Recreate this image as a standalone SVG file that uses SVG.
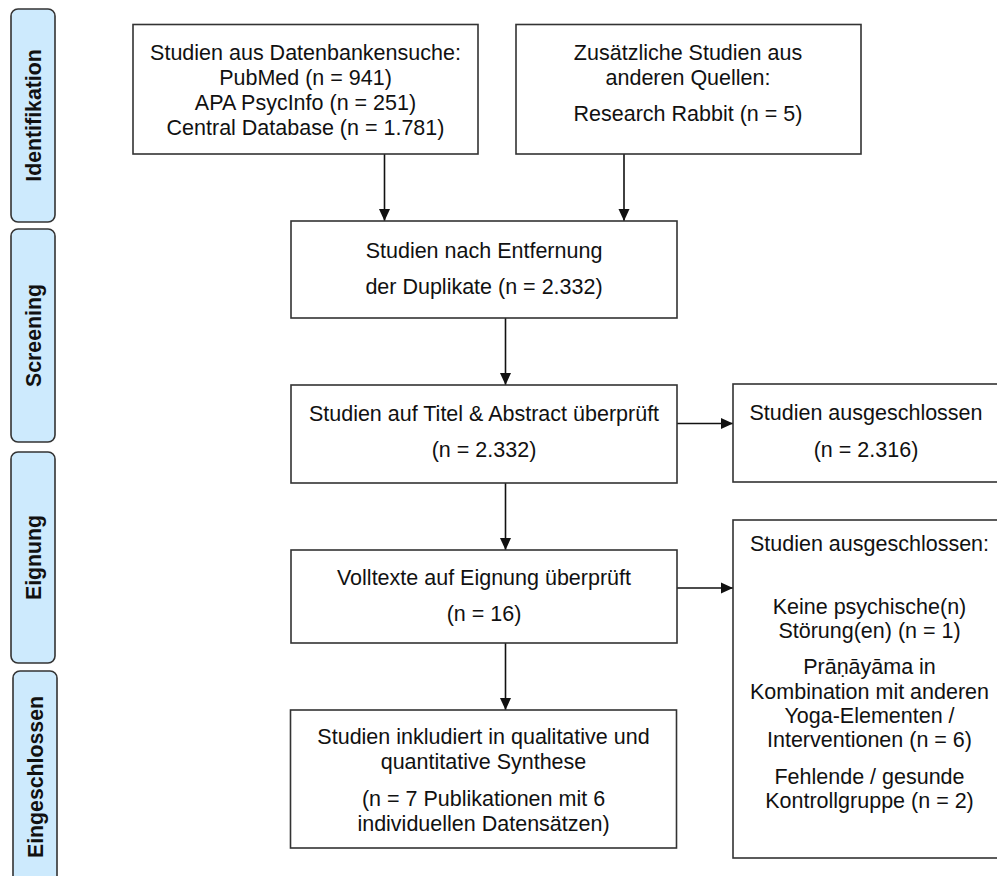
<svg xmlns="http://www.w3.org/2000/svg" width="997" height="876" viewBox="0 0 997 876">
<style>
.box{fill:#fff;stroke:#333;stroke-width:1.6}
.side{fill:#cdeafd;stroke:#333;stroke-width:1.6}
.t{font-family:"Liberation Sans",Arial,sans-serif;font-size:21.5px;fill:#111;text-anchor:middle}
.s{font-family:"Liberation Sans",Arial,sans-serif;font-size:21.3px;font-weight:bold;fill:#111;text-anchor:middle;dominant-baseline:central}
.c{stroke:#111;stroke-width:1.6;fill:none;marker-end:url(#ah)}
</style>
<defs>
<marker id="ah" markerUnits="userSpaceOnUse" markerWidth="12" markerHeight="12" viewBox="0 0 12 12" refX="12" refY="6" orient="auto">
<path d="M0,0.5 L12,6 L0,11.5 Z" fill="#111"/>
</marker>
</defs>
<rect width="997" height="876" fill="#fff"/>
<g id="phase-identifikation">
<rect class="side" x="11" y="9" width="44" height="213" rx="7"/>
<text class="s" transform="translate(33.5,115.5) rotate(-90)">Identifikation</text>
</g>
<g id="phase-screening">
<rect class="side" x="11" y="229" width="44" height="213" rx="7"/>
<text class="s" transform="translate(33.5,335.5) rotate(-90)">Screening</text>
</g>
<g id="phase-eignung">
<rect class="side" x="11" y="452" width="44" height="211" rx="7"/>
<text class="s" transform="translate(33.5,557.5) rotate(-90)">Eignung</text>
</g>
<g id="phase-eingeschlossen">
<rect class="side" x="13" y="671" width="44" height="230" rx="7"/>
<text class="s" transform="translate(35.5,777) rotate(-90)">Eingeschlossen</text>
</g>
<g id="connectors">
<line class="c" x1="384.5" y1="154" x2="384.5" y2="221"/>
<line class="c" x1="624" y1="154" x2="624" y2="221"/>
<line class="c" x1="505.5" y1="318" x2="505.5" y2="385"/>
<line class="c" x1="505.5" y1="483" x2="505.5" y2="550"/>
<line class="c" x1="505.5" y1="643" x2="505.5" y2="710"/>
<line class="c" x1="677" y1="423.5" x2="733" y2="423.5"/>
<line class="c" x1="677" y1="588" x2="733" y2="588"/>
</g>
<g id="n1">
<rect class="box" x="133" y="24.5" width="345" height="129.5"/>
<text class="t" x="305.5" y="60">Studien aus Datenbankensuche:</text>
<text class="t" x="305.5" y="85">PubMed (n = 941)</text>
<text class="t" x="305.5" y="110">APA PsycInfo (n = 251)</text>
<text class="t" x="305.5" y="134.5">Central Database (n = 1.781)</text>
</g>
<g id="n2">
<rect class="box" x="516" y="24.5" width="345" height="129.5"/>
<text class="t" x="688" y="60">Zusätzliche Studien aus</text>
<text class="t" x="688" y="85">anderen Quellen:</text>
<text class="t" x="688" y="121">Research Rabbit (n = 5)</text>
</g>
<g id="n3">
<rect class="box" x="291" y="221" width="386" height="97"/>
<text class="t" x="484" y="258">Studien nach Entfernung</text>
<text class="t" x="484" y="294">der Duplikate (n = 2.332)</text>
</g>
<g id="n4">
<rect class="box" x="291" y="385" width="386" height="98"/>
<text class="t" x="484" y="420.5">Studien auf Titel &amp; Abstract überprüft</text>
<text class="t" x="484" y="457">(n = 2.332)</text>
</g>
<g id="n5">
<rect class="box" x="733" y="384" width="280" height="98"/>
<text class="t" x="866" y="419.5">Studien ausgeschlossen</text>
<text class="t" x="866" y="456.5">(n = 2.316)</text>
</g>
<g id="n6">
<rect class="box" x="291" y="550" width="386" height="93"/>
<text class="t" x="484" y="585">Volltexte auf Eignung überprüft</text>
<text class="t" x="484" y="621">(n = 16)</text>
</g>
<g id="n7">
<rect class="box" x="290.5" y="710" width="386" height="138"/>
<text class="t" x="483.5" y="744">Studien inkludiert in qualitative und</text>
<text class="t" x="483.5" y="769">quantitative Synthese</text>
<text class="t" x="483.5" y="806">(n = 7 Publikationen mit 6</text>
<text class="t" x="483.5" y="831">individuellen Datensätzen)</text>
</g>
<g id="n8">
<rect class="box" x="733" y="520" width="280" height="338"/>
<text class="t" x="869.5" y="551">Studien ausgeschlossen:</text>
<text class="t" x="869.5" y="614">Keine psychische(n)</text>
<text class="t" x="869.5" y="638">Störung(en) (n = 1)</text>
<text class="t" x="869.5" y="674">Prāṇāyāma in</text>
<text class="t" x="869.5" y="699">Kombination mit anderen</text>
<text class="t" x="869.5" y="723">Yoga-Elementen /</text>
<text class="t" x="869.5" y="747">Interventionen (n = 6)</text>
<text class="t" x="869.5" y="784">Fehlende / gesunde</text>
<text class="t" x="869.5" y="808">Kontrollgruppe (n = 2)</text>
</g>
</svg>
